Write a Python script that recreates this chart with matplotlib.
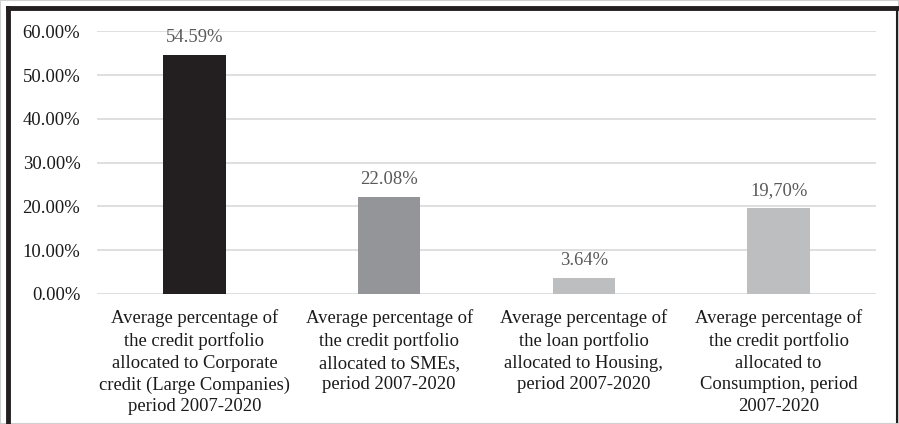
import matplotlib.pyplot as plt
from matplotlib.patches import Rectangle

categories = [
    "Average percentage of\nthe credit portfolio\nallocated to Corporate\ncredit (Large Companies)\nperiod 2007-2020",
    "Average percentage of\nthe credit portfolio\nallocated to SMEs,\nperiod 2007-2020",
    "Average percentage of\nthe loan portfolio\nallocated to Housing,\nperiod 2007-2020",
    "Average percentage of\nthe credit portfolio\nallocated to\nConsumption, period\n2007-2020",
]
values = [54.59, 22.08, 3.64, 19.70]
value_labels = ["54.59%", "22.08%", "3.64%", "19,70%"]
bar_colors = ["#231f20", "#939598", "#bcbec0", "#bcbec0"]
yticks = [0, 10, 20, 30, 40, 50, 60]

plt.rcParams["font.family"] = ["Liberation Serif", "DejaVu Serif"]

fig = plt.figure(figsize=(8.99, 4.24), dpi=100)
ax = fig.add_axes([97 / 899, 1 - 294 / 424, 779 / 899, 262.8 / 424])

x = list(range(len(values)))
ax.bar(x, values, width=0.32, color=bar_colors, zorder=3)
for xi, v, lab in zip(x, values, value_labels):
    ax.annotate(lab, (xi, v), xytext=(0, 6.5), textcoords="offset points",
                ha="center", va="bottom", fontsize=13.4, color="#595959")

ax.set_xlim(-0.5, len(values) - 0.5)
ax.set_ylim(0, 60)
ax.set_yticks(yticks)
ax.set_yticklabels([f"{t:.2f}%" for t in yticks], fontsize=13.4, color="#1a1a1a")
ax.set_xticks(x)
ax.set_xticklabels(categories, fontsize=13.4, color="#1a1a1a", linespacing=1.36)
ax.tick_params(axis="both", length=0)
ax.tick_params(axis="y", pad=12)
ax.tick_params(axis="x", pad=11)
ax.grid(axis="y", color="#d9d9d9", linewidth=1.2, zorder=0)
for s in ax.spines.values():
    s.set_visible(False)

# outer frame
fig.patches.append(Rectangle((0, 0), 1, 1, transform=fig.transFigure, fill=False,
                             edgecolor="#d0d0d0", linewidth=1.5))
fig.add_artist(plt.Line2D([8 / 899, 8 / 899], [0, 1 - 8 / 424], color="#231f20", linewidth=3.5))
fig.add_artist(plt.Line2D([8 / 899, 1], [1 - 8 / 424, 1 - 8 / 424], color="#231f20", linewidth=3.5))
fig.add_artist(plt.Line2D([897 / 899, 897 / 899], [2 / 424, 1 - 8 / 424], color="#231f20", linewidth=1.5))

fig.savefig("out.png", dpi=100)
